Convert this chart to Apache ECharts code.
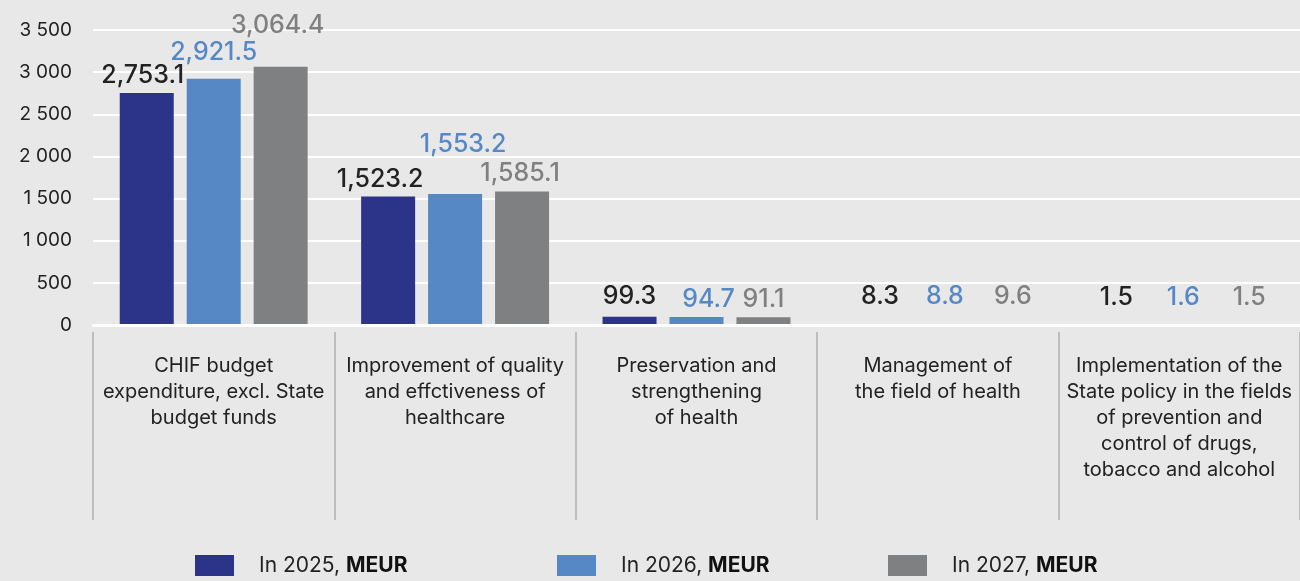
<!DOCTYPE html>
<html>
<head>
    <meta charset="utf-8">
    <script src="https://cdn.jsdelivr.net/npm/echarts@6.0.0/dist/echarts.min.js"></script>
    <style>
        html, body { margin: 0; padding: 0; background: #e8e8e8; }
    </style>
</head>
<body>
    <div id="main" style="width: 1300px;height:581px;"></div>
    <script type="text/javascript">
        // 数据
        var categories = [
            'CHIF budget\nexpenditure, excl. State\nbudget funds',
            'Improvement of quality\nand effctiveness of\nhealthcare',
            'Preservation and\nstrengthening\nof health',
            'Management of\nthe field of health',
            'Implementation of the\nState policy in the fields\nof prevention and\ncontrol of drugs,\ntobacco and alcohol'
        ]
        var seriesNames = ['In 2025', 'In 2026', 'In 2027']
        var v2025 = [2753.1, 1523.2, 99.3, 8.3, 1.5]
        var v2026 = [2921.5, 1553.2, 94.7, 8.8, 1.6]
        var v2027 = [3064.4, 1585.1, 91.1, 9.6, 1.5]
        var yMin = 0, yMax = 3500, yStep = 500

        // 标签偏移 [dx, dy]
        var labelShift = [
            [[-4, 0], [-8, 0], [0, -3], [9, -10], [4, -10]],
            [[0, -9], [8, -32], [12, 0], [7, -10], [4, -10]],
            [[-3, -24], [-2, 0], [0, 0], [8, -10], [3, -10]]
        ]
        var barColors = ['#2b3488', '#5588c5', '#7f8082']
        var labelColors = ['#222222', '#5588c5', '#808080']
        var legendLeft = [190, 552, 883]

        var myChart = echarts.init(document.getElementById('main'))

        function fmtValue(v) {
            return v.toLocaleString('en-US', { minimumFractionDigits: 1, maximumFractionDigits: 1 })
        }

        function makeSeries(idx, values) {
            return {
                name: seriesNames[idx],
                type: 'bar',
                xAxisIndex: 0,
                barWidth: 54,
                barGap: '24%',
                itemStyle: { color: barColors[idx] },
                data: values.map(function (v, i) {
                    return {
                        value: v,
                        label: { offset: labelShift[idx][i] }
                    }
                }),
                label: {
                    show: true,
                    position: 'top',
                    distance: 5,
                    color: labelColors[idx],
                    fontFamily: 'Inter',
                    fontSize: 25,
                    fontWeight: 500,
                    formatter: function (p) { return fmtValue(p.value) }
                }
            }
        }

        var legends = seriesNames.map(function (n, i) {
            return {
                data: [n],
                left: legendLeft[i],
                top: 550,
                itemWidth: 39,
                itemHeight: 21,
                icon: 'rect',
                selectedMode: false,
                formatter: function (name) { return name + ', {b|MEUR}' },
                textStyle: {
                    fontFamily: 'Inter',
                    fontSize: 21,
                    color: '#222',
                    padding: [0, 0, 0, 20],
                    rich: {
                        b: { fontFamily: 'Inter', fontSize: 21, fontWeight: 'bold', color: '#111' }
                    }
                }
            }
        })

        var option = {
            backgroundColor: '#e8e8e8',
            animation: false,
            legend: legends,
            grid: {
                left: 93,
                right: 0,
                top: 30,
                bottom: 256
            },
            xAxis: [
                {
                    type: 'category',
                    data: categories,
                    z: 5,
                    axisLine: { show: true, lineStyle: { color: '#ffffff', width: 3 } },
                    axisTick: { show: false },
                    axisLabel: { show: false }
                },
                {
                    type: 'category',
                    data: categories,
                    position: 'bottom',
                    offset: 7,
                    axisLine: { show: false },
                    axisTick: {
                        show: true,
                        interval: 0,
                        length: 188,
                        lineStyle: { color: '#bdbdbd', width: 2 }
                    },
                    axisLabel: {
                        interval: 0,
                        margin: 21,
                        color: '#222',
                        fontFamily: 'Inter',
                        fontSize: 20,
                        lineHeight: 26
                    }
                }
            ],
            yAxis: {
                type: 'value',
                min: yMin,
                max: yMax,
                interval: yStep,
                axisLine: { show: false },
                axisTick: { show: false },
                splitLine: { lineStyle: { color: '#ffffff', width: 2 } },
                axisLabel: {
                    margin: 21,
                    color: '#222',
                    fontFamily: 'Inter',
                    fontSize: 19,
                    formatter: function (v) {
                        return String(v).replace(/\B(?=(\d{3})+(?!\d))/g, ' ')
                    }
                }
            },
            series: [
                makeSeries(0, v2025),
                makeSeries(1, v2026),
                makeSeries(2, v2027)
            ]
        }
        myChart.setOption(option)
    </script>
</body>
</html>
